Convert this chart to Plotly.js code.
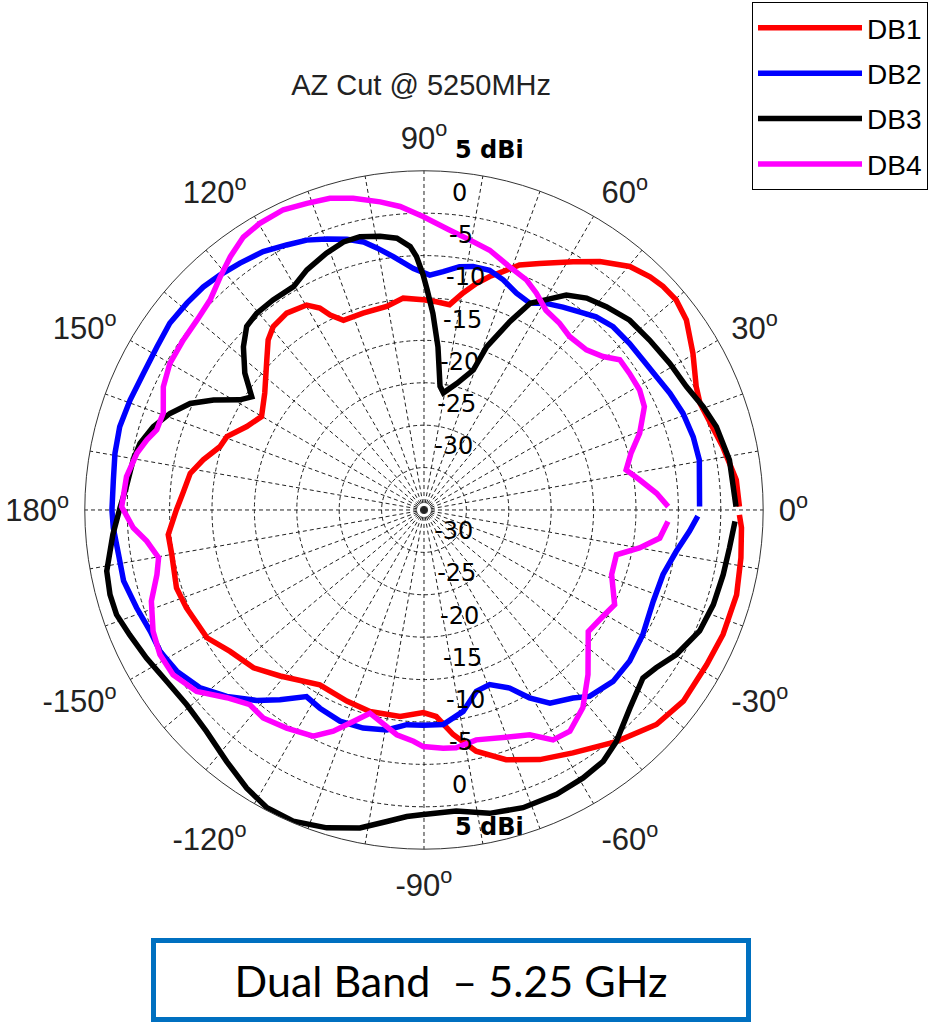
<!DOCTYPE html>
<html>
<head>
<meta charset="utf-8">
<script src="https://cdn.plot.ly/plotly-3.0.1.min.js"></script>
<style>html,body{margin:0;padding:0;background:#fff;}#chart{width:940px;height:1022px;}</style>
</head>
<body>
<div id="chart"></div>
<script>
// ---- data (angle in degrees, gain in dBi) ----
const seriesNames = ['DB1', 'DB2', 'DB3', 'DB4'];
const seriesColors = ['#FF0000', '#0000FF', '#000000', '#FF00FF'];

const db1Theta = [0.6,5.5,12.0,21.2,24.4,30.2,35.9,39.8,43.1,45.9,49.8,54.7,59.0,64.9,68.7,71.7,74.3,77.0,79.8,82.9,86.6,90.2,95.6,100.4,107.2,113.0,115.7,117.3,119.8,124.9,129.4,132.5,136.4,143.7,150.1,154.8,159.6,162.8,167.2,171.1,176.0,180,185.5,190.0,197.5,202.4,210.5,216.1,222.8,229.1,239.2,248.0,255.0,263.4,269.8,273.4,277.4,282.2,288.2,294.9,301.5,309.7,317.3,323.6,331.3,337.4,344.8,351.4,356.8,359.1];
const db1Gain  = [2.2,2.0,1.0,-0.1,0.25,1.7,3.2,3.7,3.6,3.3,2.6,0.9,-0.85,-2.9,-4.0,-5.4,-6.4,-7.6,-9.0,-10.6,-10.4,-10.2,-9.9,-10.6,-10.7,-10.7,-9.5,-8.2,-7.15,-6.7,-7.0,-7.8,-9.4,-11.7,-12.9,-11.9,-10.2,-9.8,-8.3,-7.1,-6.5,-5.8,-4.7,-4.8,-4.4,-4.7,-5.3,-6.7,-7.6,-9.1,-11.0,-10.7,-10.4,-10.5,-11.1,-10.6,-8.3,-5.9,-4.0,-2.55,-1.4,0.5,2.3,3.0,3.0,3.2,3.2,2.8,2.5,2.2];

const db2Theta = [0.7,10.3,15.2,20.5,25.4,29.8,34.4,39.0,44.1,48.3,51.9,55.6,59.4,62.9,66.9,71.0,74.7,78.6,81.7,85.4,88.6,92.5,96.9,100.2,102.7,105.9,109.7,113.5,117.4,121.9,126.7,131.0,134.7,138.9,143.7,148.6,154.0,159.5,164.7,169.6,174.5,180,183.3,188.3,193.3,198.8,203.9,208.2,213.1,218.5,223.4,228.7,232.8,237.8,242.3,248.3,254.4,260.4,265.4,269.8,275.1,281.0,286.1,290.6,295.7,299.3,303.1,308.4,311.6,317.8,323.7,330.3,338.3,344.9,350.7,355.4,358.7];
const db2Gain  = [-2.5,-2.0,-2.1,-2.4,-2.9,-3.4,-3.7,-3.8,-3.95,-4.5,-5.3,-6.0,-6.7,-7.6,-7.2,-6.3,-5.7,-5.7,-6.0,-6.8,-7.3,-6.5,-4.9,-3.6,-2.6,-1.8,-1.05,-0.3,0.2,0.9,1.3,1.7,2.0,2.1,2.2,1.9,1.8,2.0,2.2,2.05,1.8,1.8,1.7,1.4,1.4,0.8,0.3,0.3,-0.2,-1.3,-3.0,-5.1,-6.9,-9.0,-8.6,-8.2,-8.3,-8.7,-9.6,-9.6,-9.6,-10.8,-12.75,-13.0,-11.7,-9.6,-7.8,-6.7,-5.6,-4.9,-4.9,-5.3,-5.9,-5.8,-4.85,-3.6,-2.7];

const db3Theta = [0.6,9.3,15.9,20.3,25.2,30.8,37.0,42.7,48.1,52.5,56.5,59.8,62.8,65.5,69.0,70.6,75.5,80.6,82.6,85.1,87.4,89.2,90.2,91.7,93.0,95.7,99.1,103.2,106.7,110.8,116.0,120.3,125.7,130.4,134.0,137.9,142.6,146.7,149.1,152.4,155.5,159.2,162.9,166.8,170.2,175.5,179.6,184.5,190.9,195.1,198.8,203.0,208.1,213.7,219.4,225.5,231.9,237.5,242.2,247.2,253.0,258.6,263.2,266.8,269.9,276.1,282.2,288.4,295.0,300.7,305.5,309.7,316.1,322.5,325.8,330.2,336.3,341.9,347.8,352.9,357.9];
const db3Gain  = [1.8,1.5,0.85,0.1,-0.8,-1.25,-1.7,-2.0,-2.8,-3.5,-4.6,-6.3,-7.6,-10.6,-14.4,-17.5,-19.6,-21.0,-20.3,-15.7,-11.8,-9.0,-7.3,-5.1,-3.9,-2.8,-2.3,-1.9,-2.0,-2.6,-3.5,-4.5,-4.5,-4.55,-4.9,-6.3,-8.4,-10.7,-9.7,-7.0,-4.7,-2.95,-1.6,-0.6,-0.2,0.2,0.85,1.8,3.1,3.35,3.3,2.7,2.1,1.45,1.2,1.6,2.7,3.9,4.7,4.8,4.2,3.25,2.0,1.2,0.9,0.7,1.6,2.0,2.0,1.75,1.4,0.5,-1.3,-2.45,-1.9,-0.7,0.5,0.9,1.1,1.3,1.7];

const db4Theta = [0.8,4.1,7.9,11.2,15.3,19.6,25.1,29.1,33.6,37.5,40.6,44.6,50.0,54.0,58.6,62.6,66.0,70.6,75.8,80.4,84.8,90.2,94.5,98.1,102.8,106.8,110.9,115.1,119.8,123.5,127.4,131.2,135.5,140.1,144.8,150.0,154.7,159.6,163.3,165.8,168.8,173.6,179.4,183.5,186.4,190.2,193.6,198.5,204.1,208.7,213.3,218.6,223.6,228.2,232.3,237.8,243.9,247.7,251.5,255.1,258.2,263.1,267.4,269.8,274.6,277.7,282.8,289.9,295.2,299.3,303.4,308.8,314.9,323.5,329.3,333.6,341.0,346.9,350.0,353.2,357.3];
const db4Gain  = [-6.2,-7.5,-9.3,-10.7,-9.7,-8.0,-6.3,-5.9,-5.9,-5.9,-7.2,-8.1,-8.3,-7.8,-7.4,-6.2,-5.3,-4.6,-3.4,-2.7,-1.85,-0.4,0.9,1.7,2.7,3.4,3.7,4.1,3.95,3.6,2.6,1.5,0.35,-0.1,-0.25,-0.4,-1.0,-2.2,-2.1,-1.3,-0.5,0.3,0.65,-0.65,-2.1,-3.2,-2.6,-1.1,0.0,0.5,0.4,-0.7,-2.9,-4.2,-4.0,-4.6,-5.3,-6.8,-8.7,-10.2,-9.55,-8.3,-7.7,-7.1,-6.8,-6.7,-7.2,-6.5,-5.7,-3.9,-3.75,-5.1,-7.6,-10.9,-10.45,-9.9,-11.6,-11.7,-9.2,-7.0,-6.2];

// ---- axes ----
const radialRange = [-35, 5];
const ringValues = [-30, -25, -20, -15, -10, -5, 0];
const ringLabels = ['-30', '-25', '-20', '-15', '-10', '-5', '0'];
const outerLabel = '<b>5 dBi</b>';
const spokeValues = [];
for (let a = 0; a < 360; a += 10) spokeValues.push(a);
const angleLabelMap = {0:'0', 30:'30', 60:'60', 90:'90', 120:'120', 150:'150', 180:'180', 210:'-150', 240:'-120', 270:'-90', 300:'-60', 330:'-30'};
const spokeText = spokeValues.map(a => angleLabelMap[a] !== undefined ? angleLabelMap[a] + '<sup>o</sup>' : '');
const labelAngleTop = 86, labelAngleBottom = -86;

const thetas = [db1Theta, db2Theta, db3Theta, db4Theta];
const gains = [db1Gain, db2Gain, db3Gain, db4Gain];

const traces = seriesNames.map((name, i) => ({
  type: 'scatterpolar', mode: 'lines', name: name,
  theta: thetas[i], r: gains[i],
  line: {color: seriesColors[i], width: 5.5},
  legendgroup: name, hoverinfo: 'skip'
}));

const labR = ringValues.concat([5]);
const labT = ringLabels.concat([outerLabel]);
[labelAngleTop, labelAngleBottom].forEach(ang => {
  traces.push({
    type: 'scatterpolar', mode: 'markers+text', showlegend: false, hoverinfo: 'skip',
    r: labR, theta: labR.map(() => ang), text: labT,
    marker: {size: 10, color: 'rgba(0,0,0,0)'},
    textposition: 'top right', cliponaxis: false,
    textfont: {family: 'DejaVu Sans, Liberation Sans, Arial', size: 24, color: '#000'}
  });
});

const gridStyle = {gridcolor: '#222', griddash: '4px,3px', gridwidth: 1};

const layout = {
  width: 940, height: 1022,
  margin: {l: 0, r: 0, t: 0, b: 0},
  paper_bgcolor: '#ffffff',
  hovermode: false,
  title: {text: 'AZ Cut @ 5250MHz', x: 0.448, xanchor: 'center', y: 0.917, yanchor: 'middle',
          font: {family: 'Liberation Sans, Arial', size: 29, color: '#222'}},
  polar: {
    domain: {x: [0.0902, 0.8119], y: [0.1691, 0.8329]},
    bgcolor: '#ffffff',
    radialaxis: Object.assign({range: radialRange, tickmode: 'array', tickvals: ringValues,
      showticklabels: false, ticks: '', showline: false, angle: 0}, gridStyle),
    angularaxis: Object.assign({rotation: 0, direction: 'counterclockwise', tickmode: 'array',
      tickvals: spokeValues, ticktext: spokeText, ticks: 'outside', ticklen: 9,
      tickcolor: 'rgba(0,0,0,0)', showline: true, linecolor: '#333', linewidth: 1,
      tickfont: {family: 'Liberation Sans, Arial', size: 31, color: '#222'}}, gridStyle)
  },
  showlegend: true,
  legend: {x: 0.8, xanchor: 'left', y: 0.998, yanchor: 'top', bgcolor: '#ffffff',
           bordercolor: '#000', borderwidth: 1, itemwidth: 104, tracegroupgap: 6,
           font: {family: 'Liberation Sans, Arial', size: 28, color: '#000'}},
  annotations: [{
    text: 'Dual Band \u00a0\u2013 5.25 GHz', xref: 'paper', yref: 'paper',
    x: 451 / 940, y: 1 - 980 / 1022, xanchor: 'center', yanchor: 'middle', showarrow: false,
    font: {family: 'Lato, Carlito, Liberation Sans', size: 43, color: '#000'},
    bordercolor: '#0070C0', borderwidth: 5, borderpad: 0, bgcolor: '#ffffff',
    width: 590, height: 74
  }]
};

Plotly.newPlot('chart', traces, layout, {staticPlot: true, displayModeBar: false});
</script>
</body>
</html>
